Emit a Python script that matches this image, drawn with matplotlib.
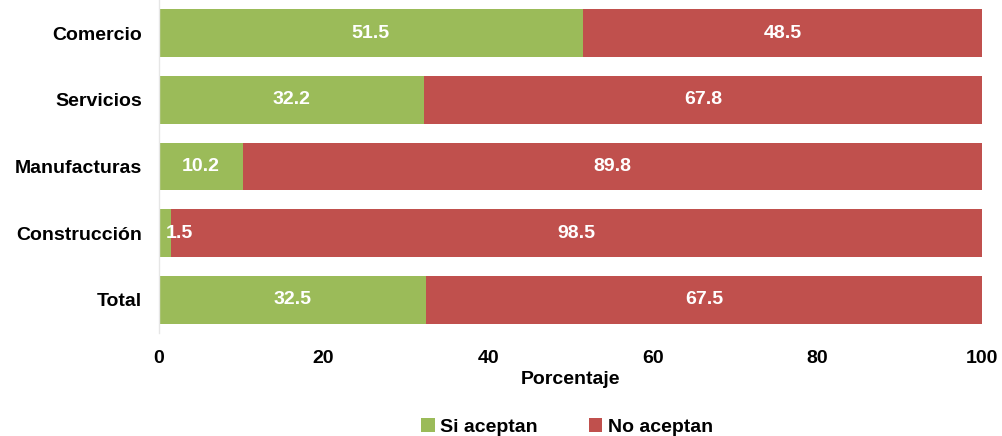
import matplotlib.pyplot as plt
import numpy as np

plt.rcParams['font.family'] = ['Liberation Sans', 'DejaVu Sans']

# data
categorias = ['Comercio', 'Servicios', 'Manufacturas', 'Construcción', 'Total']
si_aceptan = [51.5, 32.2, 10.2, 1.5, 32.5]
no_aceptan = [48.5, 67.8, 89.8, 98.5, 67.5]
xticks = [0, 20, 40, 60, 80, 100]

verde = '#9BBB59'
rojo = '#C0504D'

fig = plt.figure(figsize=(10.02, 4.36), dpi=100)
ax = fig.add_axes([0.1587, 0.2362, 0.8213, 0.7638])

y = np.arange(len(categorias))
h = 0.72
b1 = ax.barh(y, si_aceptan, h, color=verde, label='Si aceptan')
b2 = ax.barh(y, no_aceptan, h, left=si_aceptan, color=rojo, label='No aceptan')

fs = 14
# value labels
for i in range(len(categorias)):
    s, n = si_aceptan[i], no_aceptan[i]
    if s < 5:
        ax.text(s / 2 + 0.1, y[i], f'{s:.1f}', ha='left', va='center',
                color='white', fontsize=fs, fontweight='bold')
    else:
        ax.text(s / 2, y[i], f'{s:.1f}', ha='center', va='center',
                color='white', fontsize=fs, fontweight='bold')
    ax.text(s + n / 2, y[i], f'{n:.1f}', ha='center', va='center',
            color='white', fontsize=fs, fontweight='bold')

ax.set_xlim(0, 100)
ax.set_ylim(len(categorias) - 0.5, -0.5)
ax.set_yticks(y)
ax.set_yticklabels(categorias, fontsize=fs, fontweight='bold')
ax.set_xticks(xticks)
ax.set_xticklabels([str(t) for t in xticks], fontsize=fs, fontweight='bold')
ax.tick_params(axis='both', length=0)
ax.tick_params(axis='y', pad=12)
ax.tick_params(axis='x', pad=12)
ax.set_xlabel('Porcentaje', fontsize=fs, fontweight='bold', labelpad=3)

for sp in ['top', 'right', 'bottom']:
    ax.spines[sp].set_visible(False)
ax.spines['left'].set_color('#e6e6e6')
ax.spines['left'].set_linewidth(1)

fig.legend(handles=[b1, b2], loc='lower center', bbox_to_anchor=(0.566, -0.04),
           ncol=2, frameon=False, handlelength=0.7, handleheight=0.7,
           handletextpad=0.3, columnspacing=2.6, prop={'weight': 'bold', 'size': fs})

plt.savefig('out.png', dpi=100)
